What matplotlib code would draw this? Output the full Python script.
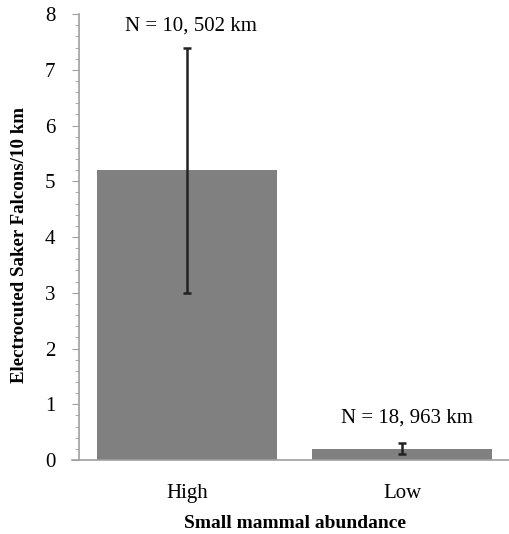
import matplotlib
matplotlib.use("Agg")
import matplotlib.pyplot as plt
from matplotlib.ticker import MultipleLocator

categories = ["High", "Low"]
values = [5.2, 0.2]
err_low = [2.2, 0.1]
err_high = [2.2, 0.1]
annotations = ["N = 10, 502 km", "N = 18, 963 km"]
annot_y = [7.78, 0.75]

plt.rcParams['font.family'] = ['Liberation Serif', 'DejaVu Serif']

fig = plt.figure(figsize=(5.1, 5.34), dpi=100)
ax = fig.add_axes([0.155, 0.1386, 0.845, 0.835])

x = range(len(categories))
ax.bar(x, values, width=0.835, color="#808080", zorder=2)
ax.errorbar(x, values, yerr=[err_low, err_high], fmt="none", ecolor="#222222",
            elinewidth=1.8, capsize=3, capthick=1.8, zorder=3)
for xi, t, yy in zip(x, annotations, annot_y):
    ax.text(xi + 0.02, yy, t, ha="center", va="center", fontsize=15)

ax.set_xlim(-0.5, 1.5)
ax.set_ylim(0, 8)
ax.set_xticks(list(x))
ax.set_xticklabels(categories, fontsize=15)
ax.yaxis.set_major_locator(MultipleLocator(1))
ax.yaxis.set_minor_locator(MultipleLocator(0.2))
ax.tick_params(axis='y', which='major', length=5, color="#a0a0a0", labelsize=15, pad=12)
ax.tick_params(axis='y', which='minor', length=3, color="#a0a0a0")
ax.tick_params(axis='x', length=0, pad=17)
for s in ["top", "right"]:
    ax.spines[s].set_visible(False)
ax.spines["left"].set_color("#a0a0a0")
ax.spines["left"].set_linewidth(1.2)
ax.spines["bottom"].set_color("#a0a0a0")
ax.spines["bottom"].set_linewidth(1.2)
ax.spines["bottom"].set_bounds(-0.535, 1.5)

ax.set_ylabel("Electrocuted Saker Falcons/10 km", fontsize=13.6, fontweight="bold")
ax.yaxis.set_label_coords(-0.118, 0.482)
ax.set_xlabel("Small mammal abundance", fontsize=14, fontweight="bold", labelpad=9)

fig.savefig("out.png", dpi=100)
